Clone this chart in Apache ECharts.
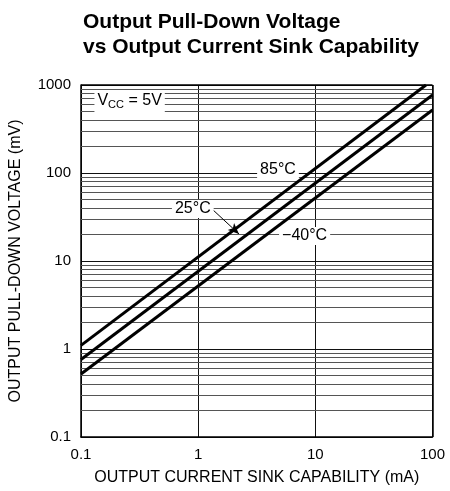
<!DOCTYPE html>
<html>
<head>
<meta charset="utf-8">
<script src="https://cdn.jsdelivr.net/npm/echarts@6/dist/echarts.min.js"></script>
<style>html,body{margin:0;padding:0;background:#fff;}#c{width:450px;height:491px;}</style>
</head>
<body>
<div id="c"></div>
<script>
// Data (x: mA, y: mV)
const series85 = [[0.1, 1.1], [88, 1000]];
const series25 = [[0.1, 0.76], [100, 770]];
const seriesM40 = [[0.1, 0.52], [100, 520]];
const xTickLabels = ['0.1', '1', '10', '100'];
const yTickLabels = ['0.1', '1', '10', '100', '1000'];
const minorGridY = [0.2, 0.3, 0.4, 0.5, 0.6, 0.7, 0.8, 0.9,
                    2, 3, 4, 5, 6, 7, 8, 9,
                    20, 30, 40, 50, 60, 70, 80, 90,
                    200, 300, 400, 500, 600, 700, 800, 900];
const annotationNames = ['vcc', '85°C', '25°C', '−40°C'];
const annotationPos = [[0.26, 660], [4.8, 108], [0.9, 39], [8.1, 19.2]];
const arrow25 = [[1.34, 38], [2.23, 20.3]];

const FONT = '"Liberation Sans", Arial, sans-serif';
const chart = echarts.init(document.getElementById('c'), null, { renderer: 'canvas' });

function fmt(v) {
  const all = [xTickLabels, yTickLabels].flat();
  for (let i = 0; i < all.length; i++) {
    const t = parseFloat(all[i]);
    if (Math.abs(v - t) / t < 1e-6) return all[i];
  }
  return '';
}

const lineStyleMain = { color: '#000', width: 3 };

chart.setOption({
  backgroundColor: '#fff',
  animation: false,
  title: {
    text: 'Output Pull-Down Voltage\nvs Output Current Sink Capability',
    left: 78, top: 5,
    textStyle: { fontFamily: FONT, fontWeight: 'bold', fontSize: 21, lineHeight: 25, color: '#000' }
  },
  grid: { left: 80.5, right: 17.5, top: 85, bottom: 54, containLabel: false },
  xAxis: {
    type: 'log', logBase: 10, min: 0.1, max: 100,
    name: 'OUTPUT CURRENT SINK CAPABILITY (mA)',
    nameLocation: 'middle', nameGap: 33,
    nameTextStyle: { fontFamily: FONT, fontSize: 16, color: '#000' },
    axisLine: { show: true, lineStyle: { color: '#000', width: 1.5 } },
    axisTick: { show: false },
    axisLabel: { fontFamily: FONT, fontSize: 15, color: '#000', margin: 10, formatter: fmt },
    splitLine: { show: true, lineStyle: { color: '#111', width: 1 } }
  },
  yAxis: {
    type: 'log', logBase: 10, min: 0.1, max: 1000,
    name: 'OUTPUT PULL-DOWN VOLTAGE (mV)',
    nameLocation: 'middle', nameGap: 57,
    nameTextStyle: { fontFamily: FONT, fontSize: 16, color: '#000' },
    axisLine: { show: true, lineStyle: { color: '#000', width: 1.5 } },
    axisTick: { show: false },
    axisLabel: { fontFamily: FONT, fontSize: 15, color: '#000', margin: 10, formatter: fmt },
    splitLine: { show: true, lineStyle: { color: '#111', width: 1 } }
  },
  series: [
    {
      type: 'line', data: [], silent: true, z: 1,
      markLine: {
        silent: true, symbol: ['none', 'none'], animation: false,
        label: { show: false },
        lineStyle: { color: '#555', width: 1, type: 'solid' },
        data: minorGridY.map(v => ({ yAxis: v }))
      }
    },
    {
      type: 'line', data: [], silent: true, z: 1,
      markLine: {
        silent: true, symbol: ['none', 'none'], animation: false,
        label: { show: false },
        lineStyle: { color: '#000', width: 1.5, type: 'solid' },
        data: [{ xAxis: 100 }, { yAxis: 1000 }]
      }
    },
    { name: '85°C', type: 'line', data: series85, showSymbol: false, lineStyle: lineStyleMain, z: 5, clip: true },
    { name: '25°C', type: 'line', data: series25, showSymbol: false, lineStyle: lineStyleMain, z: 5, clip: true },
    { name: '-40°C', type: 'line', data: seriesM40, showSymbol: false, lineStyle: lineStyleMain, z: 5, clip: true },
    {
      type: 'line', data: [], silent: true, z: 6,
      markLine: {
        silent: true, symbol: ['none', 'arrow'], symbolSize: [7, 11], animation: false,
        label: { show: false },
        lineStyle: { color: '#000', width: 1, type: 'solid' },
        data: [[{ coord: arrow25[0] }, { coord: arrow25[1] }]]
      }
    }
  ]
});

// Annotation labels positioned through the axes' scales
const graphics = annotationNames.map(function (name, i) {
  const p = chart.convertToPixel({ gridIndex: 0 }, annotationPos[i]);
  const isVcc = name === 'vcc';
  return {
    type: 'text', x: p[0], y: p[1], z: 100, silent: true,
    style: {
      text: isVcc ? '{a|V}{s|CC}{a| = 5V}' : name,
      fontFamily: FONT, fontSize: 16, fill: '#000',
      align: 'center', verticalAlign: 'middle',
      backgroundColor: '#fff', padding: [1, 3, 1, 3],
      rich: isVcc ? {
        a: { fontFamily: FONT, fontSize: 16, fill: '#000', color: '#000' },
        s: { fontFamily: FONT, fontSize: 11, fill: '#000', color: '#000', padding: [9, 0, 0, 0] }
      } : undefined
    }
  };
});
chart.setOption({ graphic: graphics });
</script>
</body>
</html>
